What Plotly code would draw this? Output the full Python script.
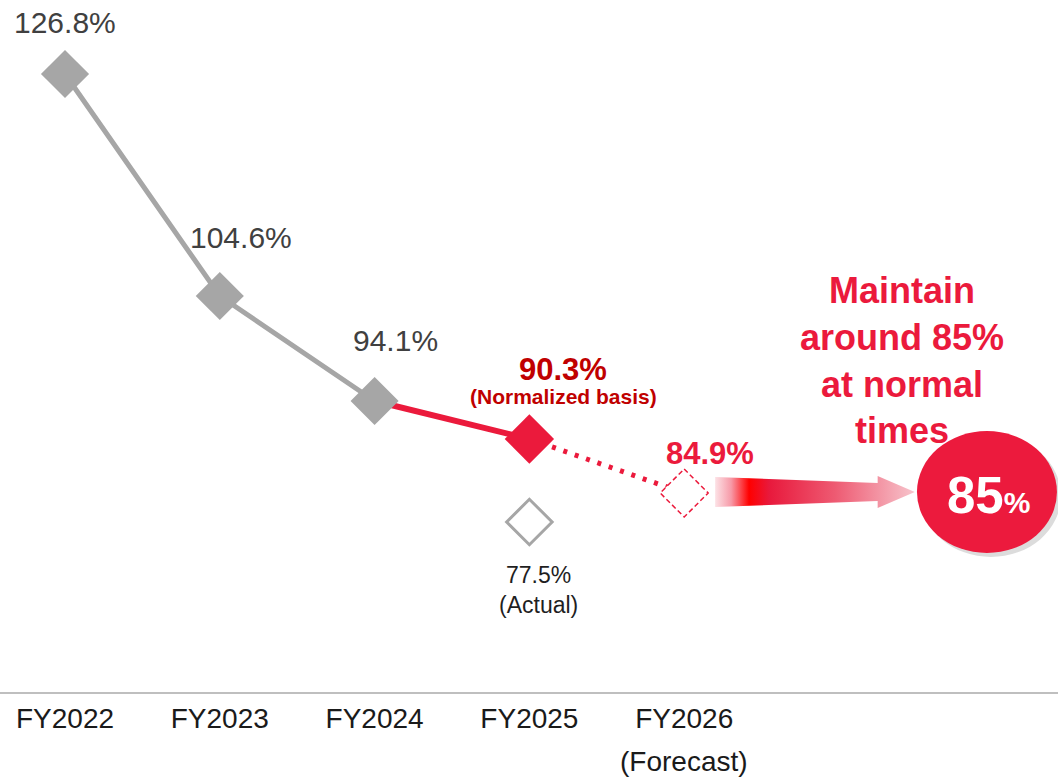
import plotly.graph_objects as go

# ---------------- data ----------------
fiscal_years = ["FY2022", "FY2023", "FY2024", "FY2025", "FY2026"]
history_years = ["FY2022", "FY2023", "FY2024"]
history_ratio = [126.8, 104.6, 94.1]
normalized_year = "FY2025"
normalized_ratio = 90.3
actual_year = "FY2025"
actual_ratio = 77.5
forecast_year = "FY2026"
forecast_ratio = 84.9
target_ratio = 85
history_labels = ["126.8%", "104.6%", "94.1%"]

# ---------------- styles ----------------
GRAY = "#A6A6A6"
RED = "#EB1A3C"
DARKRED = "#C00000"
FONT = "Liberation Sans, Arial, sans-serif"

idx = {fy: i for i, fy in enumerate(fiscal_years)}
hx = [idx[f] for f in history_years]
nx = idx[normalized_year]
ax_ = idx[actual_year]
fx = idx[forecast_year]

fig = go.Figure()

# red solid segment FY2024 -> FY2025
fig.add_trace(go.Scatter(x=[hx[-1], nx], y=[history_ratio[-1], normalized_ratio],
                         mode="lines", line=dict(color=RED, width=6),
                         hoverinfo="skip", showlegend=False))
# dotted segment FY2025 -> FY2026
fig.add_trace(go.Scatter(x=[nx, fx], y=[normalized_ratio, forecast_ratio],
                         mode="lines", line=dict(color=RED, width=5, dash="4px,8px"),
                         hoverinfo="skip", showlegend=False))
# gray history line
fig.add_trace(go.Scatter(x=hx, y=history_ratio, mode="lines+markers",
                         line=dict(color=GRAY, width=5),
                         marker=dict(symbol="diamond", size=37, color=GRAY),
                         hoverinfo="skip", showlegend=False))
# normalized marker
fig.add_trace(go.Scatter(x=[nx], y=[normalized_ratio], mode="markers",
                         marker=dict(symbol="diamond", size=38, color=RED),
                         hoverinfo="skip", showlegend=False))
# actual marker (hollow) on its own display axis
fig.add_trace(go.Scatter(x=[ax_], y=[actual_ratio], mode="markers", yaxis="y2",
                         marker=dict(symbol="diamond", size=35, color="white",
                                     line=dict(color=GRAY, width=3)),
                         hoverinfo="skip", showlegend=False))

# gradient arrow toward the target
t = target_ratio
arrow_x = [4.2, 5.25, 5.25, 5.49, 5.25, 5.25, 4.2, 4.2]
arrow_y = [t + 1.5, t + 0.9, t + 1.6, t, t - 1.6, t - 0.9, t - 1.5, t + 1.5]
fig.add_trace(go.Scatter(x=arrow_x, y=arrow_y, mode="lines", fill="toself",
                         line=dict(width=0, color="rgba(0,0,0,0)"),
                         fillgradient=dict(type="horizontal", start=4.2, stop=5.49,
                                           colorscale=[[0, "#FCE2E6"], [0.08, "#F79AA8"],
                                                       [0.17, "#FF0000"], [0.27, "#E8193C"],
                                                       [0.6, "#EE5A72"], [1, "#F7C4CC"]]),
                         hoverinfo="skip", showlegend=False))

shapes = []
# forecast dashed hollow diamond
shapes.append(dict(type="path", xref="x", yref="y", xsizemode="pixel", ysizemode="pixel",
                   xanchor=fx, yanchor=forecast_ratio,
                   path="M0,24 L24,0 L0,-24 L-24,0 Z",
                   fillcolor="white", line=dict(color=RED, width=1.5, dash="5px,3px")))
# target bubble shadow + bubble
circ_x = 5.956
shapes.append(dict(type="circle", xref="x", yref="y", xsizemode="pixel", ysizemode="pixel",
                   xanchor=circ_x, yanchor=target_ratio, x0=-66, x1=74, y0=-65, y1=57,
                   fillcolor="rgba(130,130,130,0.28)", line=dict(width=0), layer="above"))
shapes.append(dict(type="circle", xref="x", yref="y", xsizemode="pixel", ysizemode="pixel",
                   xanchor=circ_x, yanchor=target_ratio, x0=-70, x1=70, y0=-61, y1=61,
                   fillcolor="#EC1A3D", line=dict(width=0), layer="above"))

annotations = []
label_shift = [(0, 52), (21, 59), (21, 61)]
for xv, yv, lab, (dx, dy) in zip(hx, history_ratio, history_labels, label_shift):
    annotations.append(dict(x=xv, y=yv, text=lab, showarrow=False, xshift=dx, yshift=dy,
                            font=dict(family=FONT, size=30, color="#404040")))
annotations.append(dict(x=nx, y=normalized_ratio, text=f"<b>{normalized_ratio}%</b>",
                        showarrow=False, xshift=34, yshift=70,
                        font=dict(family=FONT, size=31, color=DARKRED)))
annotations.append(dict(x=nx, y=normalized_ratio, text="<b>(Normalized basis)</b>",
                        showarrow=False, xshift=34, yshift=43,
                        font=dict(family=FONT, size=21, color=DARKRED)))
annotations.append(dict(x=fx, y=forecast_ratio, text=f"<b>{forecast_ratio}%</b>",
                        showarrow=False, xshift=26, yshift=40,
                        font=dict(family=FONT, size=31, color=RED)))
annotations.append(dict(x=ax_, y=actual_ratio, yref="y2", text=f"{actual_ratio}%",
                        showarrow=False, xshift=9, yshift=-53,
                        font=dict(family=FONT, size=23, color="#1F1F1F")))
annotations.append(dict(x=ax_, y=actual_ratio, yref="y2", text="(Actual)",
                        showarrow=False, xshift=9, yshift=-83,
                        font=dict(family=FONT, size=23, color="#1F1F1F")))
annotations.append(dict(x=5.407, y=98.15, text="<b>Maintain<br>around 85%<br>at normal<br>times</b>",
                        showarrow=False, align="center",
                        font=dict(family=FONT, size=36, color=RED)))
annotations.append(dict(x=circ_x, y=target_ratio, xshift=2, yshift=-3,
                        text=f"<b>{target_ratio}<span style='font-size:30px'>%</span></b>",
                        showarrow=False, font=dict(family=FONT, size=51, color="white")))
annotations.append(dict(x=fx, y=0.025, yref="paper", text="(Forecast)", showarrow=False,
                        yanchor="middle", font=dict(family=FONT, size=28, color="#1A1A1A")))

dom_bottom = 89 / 781
fig.update_layout(
    width=1058, height=781,
    margin=dict(l=0, r=0, t=0, b=0),
    paper_bgcolor="white", plot_bgcolor="white",
    showlegend=False,
    xaxis=dict(range=[-0.42, 6.415], tickvals=list(range(len(fiscal_years))),
               ticktext=fiscal_years, showgrid=False, zeroline=False,
               showline=True, linecolor="#BFBFBF", linewidth=2, ticks="",
               tickfont=dict(family=FONT, size=28, color="#1A1A1A"),
               fixedrange=True),
    yaxis=dict(domain=[dom_bottom, 1], range=[65.0, 134.2], visible=False, fixedrange=True),
    yaxis2=dict(domain=[dom_bottom, 1], range=[60.5, 129.7], overlaying="y",
                visible=False, fixedrange=True),
    shapes=shapes,
    annotations=annotations,
)

fig.write_html("out.html", config={"displayModeBar": False})
